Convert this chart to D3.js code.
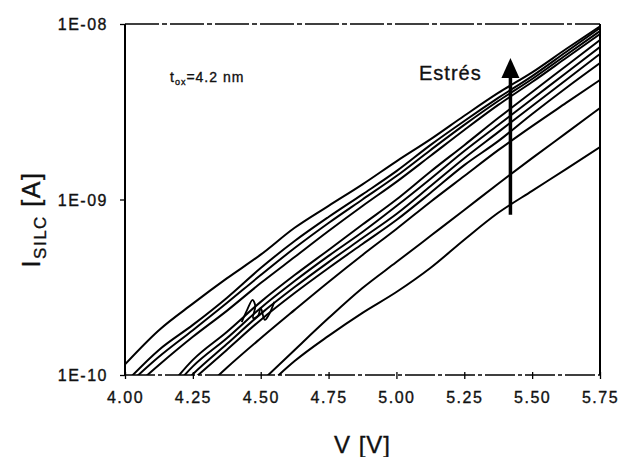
<!DOCTYPE html>
<html>
<head>
<meta charset="utf-8">
<script src="https://cdn.jsdelivr.net/npm/d3@7/dist/d3.min.js"></script>
<style>
  html, body { margin: 0; padding: 0; background: #fff; }
  svg { display: block; }
  text { font-family: "Liberation Sans", Arial, Helvetica, sans-serif; fill: #111; stroke: #111; stroke-width: 0.35px; }
</style>
</head>
<body>
<svg id="chart" width="623" height="457"></svg>
<script>
// Gate voltage sweep (V)
const voltage = [4.000, 4.125, 4.250, 4.375, 4.500, 4.625, 4.750, 4.875,
                 5.000, 5.125, 5.250, 5.375, 5.500, 5.625, 5.750];

// SILC current (A) for successive stress steps, fresh device first
const stress01 = [null, null, null, null, 8.0e-11, 1.2e-10, 1.67e-10, 2.26e-10, 2.97e-10, 4.07e-10, 5.9e-10, 8.4e-10, 1.12e-9, 1.49e-9, 1.99e-9];
const stress02 = [null, null, null, null, 9.1e-11, 1.39e-10, 2.11e-10, 3.13e-10, 4.40e-10, 6.19e-10, 8.71e-10, 1.23e-9, 1.72e-9, 2.39e-9, 3.32e-9];
const stress03 = [null, null, 7.2e-11, 1.10e-10, 1.62e-10, 2.35e-10, 3.39e-10, 4.83e-10, 6.79e-10, 9.68e-10, 1.36e-9, 1.91e-9, 2.62e-9, 3.55e-9, 4.80e-9];
const stress04 = [null, null, 9.4e-11, 1.39e-10, 2.06e-10, 2.93e-10, 4.07e-10, 5.58e-10, 7.64e-10, 1.09e-9, 1.57e-9, 2.15e-9, 3.07e-9, 4.32e-9, 5.99e-9];
const stress05 = [null, 6.3e-11, 1.01e-10, 1.50e-10, 2.23e-10, 3.17e-10, 4.40e-10, 6.03e-10, 8.27e-10, 1.19e-9, 1.72e-9, 2.42e-9, 3.41e-9, 4.80e-9, 6.75e-9];
const stress06 = [null, 6.7e-11, 1.12e-10, 1.62e-10, 2.41e-10, 3.43e-10, 4.77e-10, 6.53e-10, 9.18e-10, 1.31e-9, 1.89e-9, 2.66e-9, 3.74e-9, 5.26e-9, 7.39e-9];
const stress07 = [null, 7.2e-11, 1.22e-10, 1.76e-10, 2.61e-10, 3.71e-10, 5.16e-10, 7.2e-10, 1.0e-9, 1.44e-9, 2.04e-9, 2.91e-9, 4.1e-9, 5.76e-9, 8.1e-9];
const stress08 = [7.7e-11, 1.14e-10, 1.65e-10, 2.32e-10, 3.34e-10, 4.70e-10, 6.61e-10, 9.18e-10, 1.26e-9, 1.77e-9, 2.49e-9, 3.46e-9, 4.67e-9, 6.40e-9, 8.77e-9];
const stress09 = [8.5e-11, 1.27e-10, 1.8e-10, 2.57e-10, 3.71e-10, 5.29e-10, 7.35e-10, 1.0e-9, 1.36e-9, 1.91e-9, 2.66e-9, 3.64e-9, 4.86e-9, 6.66e-9, 9.12e-9];
const stress10 = [9.0e-11, 1.39e-10, 1.93e-10, 2.75e-10, 4.07e-10, 5.8e-10, 7.95e-10, 1.07e-9, 1.45e-9, 2.04e-9, 2.8e-9, 3.79e-9, 5.05e-9, 6.93e-9, 9.49e-9];
const stress11 = [1.15e-10, 1.8e-10, 2.55e-10, 3.55e-10, 4.85e-10, 6.9e-10, 9.2e-10, 1.22e-9, 1.65e-9, 2.2e-9, 3.0e-9, 4.05e-9, 5.3e-9, 7.2e-9, 9.7e-9];

// Short noisy excursion recorded on one sweep near 4.5 V
const glitchV = [4.430, 4.450, 4.470, 4.480, 4.472, 4.490, 4.500, 4.515, 4.530, 4.550];
const glitchI = [2.0e-10, 2.35e-10, 2.68e-10, 2.47e-10, 2.11e-10, 2.17e-10, 2.41e-10, 2.06e-10, 2.2e-10, 2.61e-10];

// Axis ticks
const xTicks = [4.00, 4.25, 4.50, 4.75, 5.00, 5.25, 5.50, 5.75];
const yTicks = [1e-10, 1e-9, 1e-8];
const yTickLabels = ["1E-10", "1E-09", "1E-08"];

// Stress-direction arrow (voltage, from current, to current)
const arrowV = 5.42;
const arrowFrom = 8.2e-10;
const arrowTo = 6.4e-9;

const sweeps = [stress01, stress02, stress03, stress04, stress05, stress06,
                stress07, stress08, stress09, stress10, stress11];

const svg = d3.select("#chart");
const W = 623, H = 457;
const plotL = 125, plotR = 600, plotT = 24, plotB = 375;

svg.append("rect").attr("width", W).attr("height", H).attr("fill", "#fff");

const x = d3.scaleLinear().domain([4.0, 5.75]).range([plotL, plotR]);
const y = d3.scaleLog().domain([1e-10, 1e-8]).range([plotB, plotT]);

svg.append("clipPath").attr("id", "plotClip")
  .append("rect").attr("x", plotL).attr("y", plotT)
  .attr("width", plotR - plotL).attr("height", plotB - plotT);

const plot = svg.append("g").attr("clip-path", "url(#plotClip)");

const line = d3.line()
  .defined(d => d[1] != null)
  .x(d => x(d[0]))
  .y(d => y(d[1]))
  .curve(d3.curveMonotoneX);

sweeps.forEach(s => {
  plot.append("path")
    .datum(voltage.map((v, i) => [v, s[i]]))
    .attr("d", line)
    .attr("fill", "none")
    .attr("stroke", "#000")
    .attr("stroke-width", 2)
    .attr("stroke-linejoin", "round");
});

plot.append("path")
  .datum(glitchV.map((v, i) => [v, glitchI[i]]))
  .attr("d", d3.line().x(d => x(d[0])).y(d => y(d[1])).curve(d3.curveCatmullRom))
  .attr("fill", "none")
  .attr("stroke", "#000")
  .attr("stroke-width", 1.8);

// Frame: solid sides, broken top and bottom rules
const frame = svg.append("g").attr("stroke", "#000").attr("fill", "none");
frame.append("line").attr("x1", plotL).attr("x2", plotL).attr("y1", plotT).attr("y2", plotB).attr("stroke-width", 2);
frame.append("line").attr("x1", plotR).attr("x2", plotR).attr("y1", plotT).attr("y2", plotB).attr("stroke-width", 2);
frame.append("line").attr("x1", plotL).attr("x2", plotR).attr("y1", plotT).attr("y2", plotT)
  .attr("stroke-width", 1.5).attr("stroke-dasharray", "34 3 5 3");
frame.append("line").attr("x1", plotL).attr("x2", plotR).attr("y1", plotB).attr("y2", plotB)
  .attr("stroke-width", 1.5).attr("stroke-dasharray", "30 3 4 3");

// X axis
const xAxis = d3.axisBottom(x).tickValues(xTicks).tickSize(0).tickFormat(d3.format(".2f"));
const gx = svg.append("g").attr("transform", `translate(0,${plotB})`).call(xAxis);
gx.select(".domain").remove();
gx.selectAll("text")
  .attr("dy", 0).attr("y", 28)
  .style("font-size", "16px").style("letter-spacing", "1.5px").attr("fill", "#111");
gx.selectAll(".tick").append("line")
  .attr("y1", -3).attr("y2", 4).attr("stroke", "#000").attr("stroke-width", 1.3);

// Y axis
const yAxis = d3.axisLeft(y).tickValues(yTicks).tickSize(0)
  .tickFormat((d, i) => yTickLabels[i]);
const gy = svg.append("g").attr("transform", `translate(${plotL},0)`).call(yAxis);
gy.select(".domain").remove();
gy.selectAll("text")
  .attr("x", -17).attr("dy", "0.36em")
  .style("font-size", "16px").style("letter-spacing", "1.5px").attr("fill", "#111");
gy.selectAll(".tick").append("line")
  .attr("x1", -5).attr("x2", 0).attr("stroke", "#000").attr("stroke-width", 1.3);

// Axis titles
svg.append("text")
  .attr("x", (plotL + plotR) / 2).attr("y", 453)
  .attr("text-anchor", "middle")
  .style("font-size", "24px").style("letter-spacing", "1px")
  .text("V [V]");

const yTitle = svg.append("text")
  .attr("transform", `translate(40,${(plotT + plotB) / 2 + 20}) rotate(-90)`)
  .attr("text-anchor", "middle")
  .style("font-size", "25px").style("letter-spacing", "1.5px");
yTitle.append("tspan").text("I");
yTitle.append("tspan").attr("dy", 6).style("font-size", "17px").text("SILC");
yTitle.append("tspan").attr("dy", -6).text(" [A]");

// Oxide thickness annotation
const tox = svg.append("text").attr("x", 170).attr("y", 82)
  .style("font-size", "14px").style("letter-spacing", "1px");
tox.append("tspan").text("t");
tox.append("tspan").attr("dy", 3).style("font-size", "9px").text("ox");
tox.append("tspan").attr("dy", -3).text("=4.2 nm");

// Stress arrow
const ax = x(arrowV);
const yTip = y(arrowTo);
svg.append("line")
  .attr("x1", ax).attr("x2", ax)
  .attr("y1", y(arrowFrom)).attr("y2", yTip + 16)
  .attr("stroke", "#000").attr("stroke-width", 3.5);
svg.append("path")
  .attr("d", `M${ax},${yTip} L${ax - 9},${yTip + 20} L${ax + 9},${yTip + 20} Z`)
  .attr("fill", "#000");

svg.append("text")
  .attr("x", 419).attr("y", 80)
  .style("font-size", "20px").style("letter-spacing", "1px")
  .text("Estrés");
</script>
</body>
</html>
